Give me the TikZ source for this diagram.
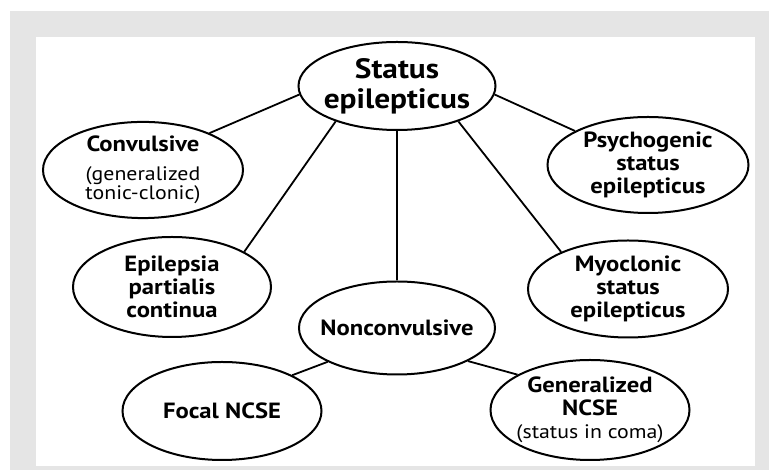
\documentclass[tikz,border=0pt]{standalone}
\usepackage{fontspec}
\setmainfont{PT Sans}[FakeStretch=1.12]
\usetikzlibrary{shapes.geometric}
\newcommand{\headfont}{\fontsize{28}{30}\selectfont\bfseries}
\newcommand{\kindfont}{\fontsize{22}{23}\selectfont\bfseries}
\newcommand{\notefont}{\fontsize{19.5}{19}\selectfont\mdseries}

\begin{document}
\begin{tikzpicture}[x=1pt,y=1pt,
    bubble/.style={ellipse,draw,line width=2pt,fill=white,inner xsep=-8pt,inner ysep=0pt,align=center,font=\kindfont},
    link/.style={line width=1.8pt}]
    % backdrop
    \useasboundingbox (0,0) rectangle (769,470);
    \fill[black!10] (10,0) rectangle (769,459);
    \fill[white] (36,4) rectangle (755,433);
    % top node
    \node[bubble,minimum width=197,minimum height=88,font=\headfont] (status) at (397,384) {Status\\epilepticus};
    % left column
    \node[bubble,minimum width=200,minimum height=86] (conv) at (143,300) {Convulsive\\[6pt]{\notefont (generalized}\\[-4pt]{\notefont tonic-clonic)}};
    \node[bubble,minimum width=198,minimum height=100] (epil) at (172,183) {Epilepsia\\partialis\\continua};
    % right column
    \node[bubble,minimum width=201,minimum height=96] (psych) at (648,305) {Psychogenic\\status\\epilepticus};
    \node[bubble,minimum width=200,minimum height=97] (myo) at (628,181) {Myoclonic\\status\\epilepticus};
    % middle
    \node[bubble,minimum width=196,minimum height=93] (noncon) at (397,142) {Nonconvulsive};
    % bottom row
    \node[bubble,minimum width=199,minimum height=98] (focal) at (222,59) {Focal NCSE};
    \node[bubble,minimum width=199,minimum height=100] (gen) at (590,60) {Generalized\\NCSE\\{\notefont (status in coma)}};
    % connectors
    \draw[link] (status.185) -- (conv.29);
    \draw[link] (status.-5) -- (psych.155);
    \draw[link] (status.210) -- (epil.26);
    \draw[link] (status.330) -- (myo.151);
    \draw[link] (status.south) -- (noncon.north);
    \draw[link] (noncon.206) -- (focal.27);
    \draw[link] (noncon.335) -- (gen.154);
\end{tikzpicture}
\end{document}
